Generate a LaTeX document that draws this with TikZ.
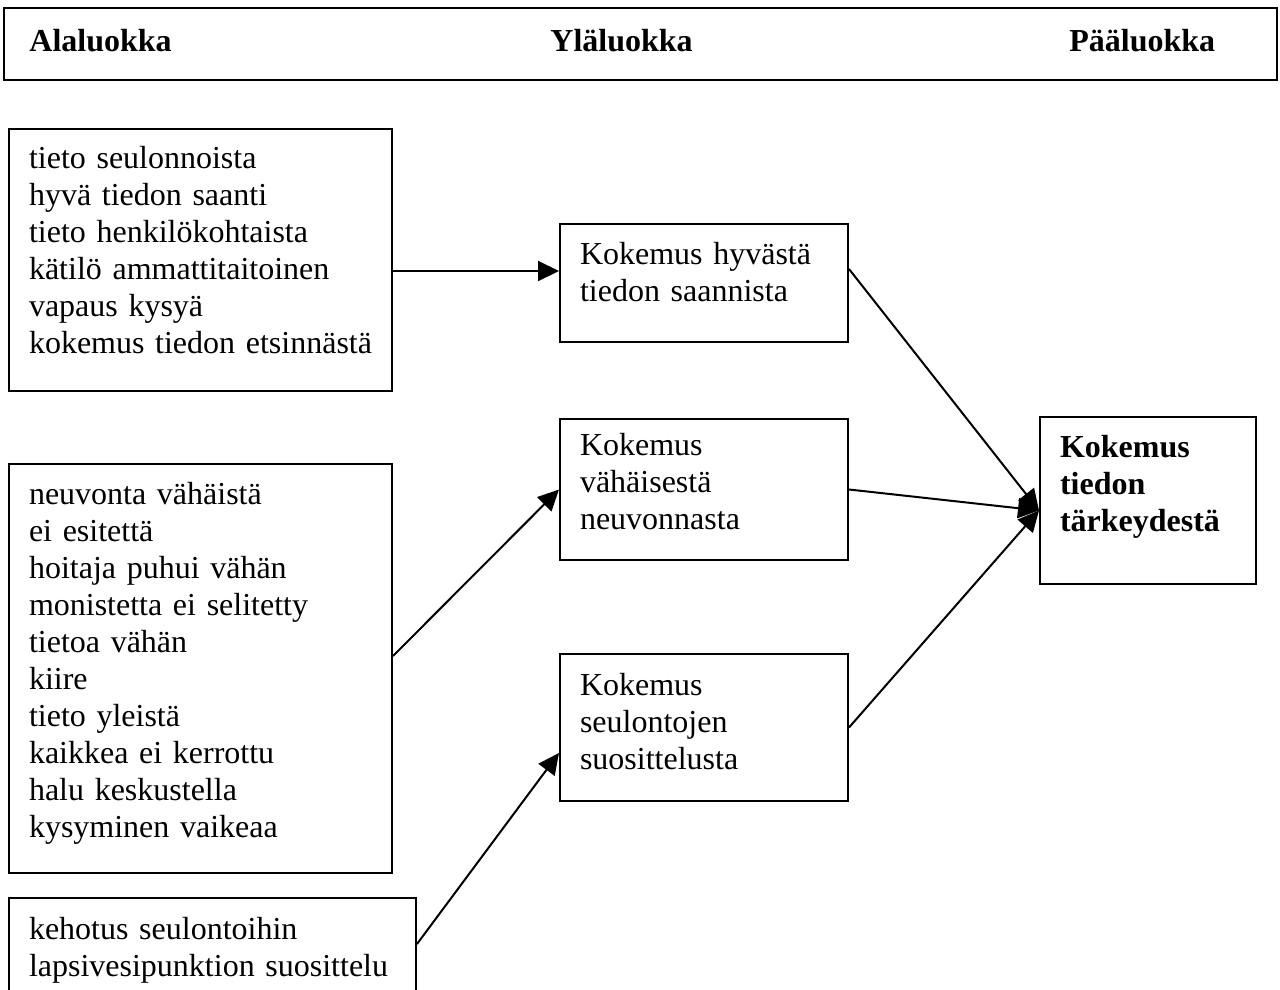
\documentclass[tikz,border=0pt]{standalone}
\usepackage{fontspec}
\setmainfont{Liberation Serif}
\usetikzlibrary{arrows.meta}

\begin{document}
\begin{tikzpicture}[x=0.5pt,y=-0.5pt]
\tikzstyle{every node}+=[font=\fontsize{16}{18.5}\selectfont]
\tikzstyle{laatikko}=[draw, line width=1pt, anchor=north west, align=left, inner xsep=10pt, inner ysep=0pt]
\tikzstyle{otsake}=[anchor=base west, inner sep=0pt, font=\fontsize{16}{18.5}\selectfont\bfseries]
\tikzstyle{nuoli}=[line width=1pt, -{Triangle[length=10.5pt,width=10pt]}]
\useasboundingbox (0,0) rectangle (1280,990);
% otsikkorivi
\draw [line width=1pt] (4,8) rectangle (1277,80);
\node [otsake] (ala) at (29,52) {Alaluokka};
\node [otsake] (yla) at (550,52) {Yläluokka};
\node [otsake] (paa) at (1069,52) {Pääluokka};
% alaluokat
\node [laatikko, text width=171.5pt, minimum height=131pt, text depth=102.5pt] (b1) at (8,128)
  {tieto seulonnoista\\hyvä tiedon saanti\\tieto henkilökohtaista\\kätilö ammattitaitoinen\\vapaus kysyä\\\mbox{kokemus tiedon etsinnästä}};
\node [laatikko, text width=171.5pt, minimum height=204.5pt, text depth=174.9pt] (b2) at (8,463)
  {neuvonta vähäistä\\ei esitettä\\hoitaja puhui vähän\\monistetta ei selitetty\\tietoa vähän\\kiire\\tieto yleistä\\kaikkea ei kerrottu\\halu keskustella\\kysyminen vaikeaa};
\node [laatikko, text width=183.5pt, minimum height=49.5pt, text depth=19pt] (b3) at (8,897)
  {kehotus seulontoihin\\\mbox{lapsivesipunktion suosittelu}};
% yläluokat
\node [laatikko, text width=124pt, minimum height=59pt, text depth=30pt] (ya) at (559,223)
  {Kokemus hyvästä\\tiedon saannista};
\node [laatikko, text width=124pt, minimum height=70.5pt, text depth=45pt] (yb) at (559,418)
  {Kokemus\\vähäisestä\\neuvonnasta};
\node [laatikko, text width=124pt, minimum height=73.5pt, text depth=43pt] (yc) at (559,653)
  {Kokemus\\seulontojen\\suosittelusta};
% pääluokka
\node [laatikko, text width=88pt, minimum height=83.5pt, text depth=54.5pt, font=\fontsize{16}{18.5}\selectfont\bfseries] (pl) at (1039,416)
  {Kokemus\\tiedon\\tärkeydestä};
% nuolet
\draw [nuoli] ([yshift=-5.5pt]b1.east) -- ([yshift=6pt]ya.west);
\draw [nuoli] ([yshift=6.25pt]b2.east) -- (yb.west);
\draw [nuoli] ([yshift=1.75pt]b3.east) -- ([yshift=-12.75pt]yc.west);
\draw [nuoli] ([yshift=7pt]ya.east) -- ([yshift=-5pt]pl.west);
\draw [nuoli] (yb.east) -- ([yshift=-5pt]pl.west);
\draw [nuoli] (yc.east) -- ([yshift=-5pt]pl.west);
\end{tikzpicture}
\end{document}
